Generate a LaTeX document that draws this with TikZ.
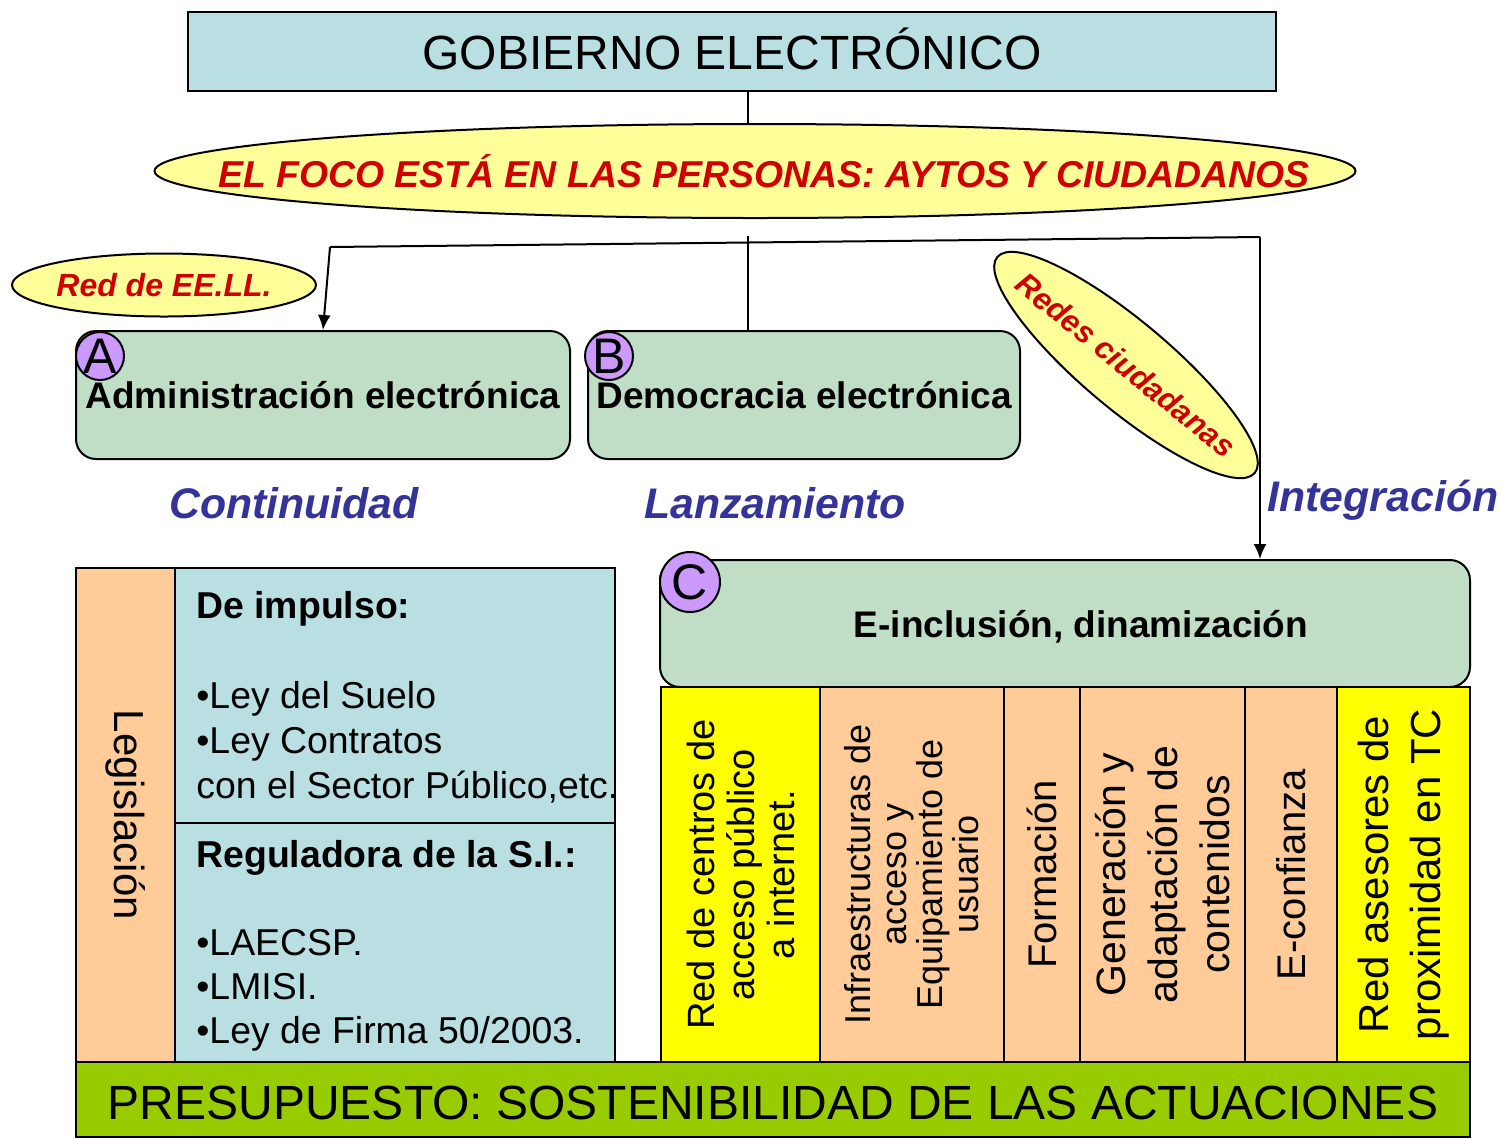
\documentclass[tikz,border=0pt]{standalone}
\usepackage{fontspec}
\setmainfont{Liberation Sans}
\usepackage{tikz}
\usetikzlibrary{positioning,shapes.geometric,arrows.meta}
\definecolor{boxblue}{HTML}{B9DFE3}
\definecolor{boxgreen}{HTML}{C0DEC6}
\definecolor{palegold}{HTML}{FFFF99}
\definecolor{focored}{HTML}{D00000}
\definecolor{phaseblue}{HTML}{333399}
\definecolor{lilac}{HTML}{CC99FF}
\definecolor{peach}{HTML}{FFCC99}
\definecolor{brightyel}{HTML}{FFFF00}
\definecolor{budget}{HTML}{99CC00}
\newcommand{\fs}[1]{\fontsize{#1}{#1}\selectfont}

\begin{document}
\begin{tikzpicture}[x=0.5pt,y=-0.5pt,
  plain/.style={draw,line width=1pt,inner sep=0pt},
  rbox/.style={plain,fill=boxgreen,rounded corners=10pt},
  oval/.style={plain,ellipse,fill=palegold},
  ovaltext/.style={text=focored,font=\fs{#1}\bfseries\itshape},
  tag/.style={plain,circle,fill=lilac,minimum size=#1},
  phase/.style={text=phaseblue,font=\fs{21.4}\bfseries\itshape},
  col/.style={plain,minimum width=187.5pt,rotate=90,align=center},
  link/.style={line width=1pt},
  arr/.style={link,-{Latex[length=7.5pt,width=6.5pt]}}]
  \useasboundingbox (0,0) rectangle (1501,1137);
  % top of the scheme
  \node(gob)[plain,fill=boxblue,minimum width=544pt,minimum height=39.5pt] at (732,51.5) {};
  \node(gobtxt)[font=\fs{24},yshift=1.5pt] at (gob.center) {GOBIERNO ELECTRÓNICO};
  \node(foco)[oval,minimum width=600.5pt,minimum height=47pt] at (755,171) {};
  \node(focotxt)[ovaltext=18.7,xshift=4.5pt] at (foco.center) {EL FOCO ESTÁ EN LAS PERSONAS: AYTOS Y CIUDADANOS};
  \node(eell)[oval,minimum width=152pt,minimum height=31.5pt] at (164,285) {};
  \node(eelltxt)[ovaltext=16] at (eell.center) {Red de EE.LL.};
  \node(redes)[oval,minimum width=168pt,minimum height=44pt,rotate=-40] at (1126,365) {};
  \node(redestxt)[ovaltext=15.5,rotate=-39] at (redes.center) {Redes ciudadanas};
  % the three lines
  \node(adm)[rbox,minimum width=247pt,minimum height=64pt] at (323,395) {\fs{18.5}\bfseries Administración electrónica};
  \node(dem)[rbox,minimum width=216pt,minimum height=64pt] at (804,395) {\fs{18.5}\bfseries Democracia electrónica};
  \node(einc)[rbox,minimum width=405pt,minimum height=63.5pt] at (1065,623.5) {};
  \node(einctxt)[font=\fs{18.5}\bfseries,xshift=8pt,yshift=-1.5pt] at (einc.center) {E-inclusión, dinamización};
  \node(tagA)[tag=24pt,label={[font=\fs{25}]center:A}] at (100,356) {};
  \node(tagB)[tag=24pt,label={[font=\fs{25}]center:B}] at (609,356) {};
  \node(tagC)[tag=30pt,label={[font=\fs{25}]center:C}] at (690,582) {};
  \node(cont)[phase] at (294,503) {Continuidad};
  \node(lanz)[phase] at (775,503) {Lanzamiento};
  \node(integ)[phase] at (1383,500) {Integración};
  % connectors
  \coordinate(jl) at (330,247);
  \coordinate(jr) at (1260,237);
  \coordinate(jm) at (748,236);
  \draw[link] (gob.south -| jm) -- (foco.north -| jm);
  \draw[link] (jl) -- (jr);
  \draw[arr] (jl) -- (adm.north);
  \draw[link] (jm) -- (jm |- dem.north);
  \draw[arr] (jr) -- (jr |- einc.north);
  % legislation block
  \node(leg)[plain,fill=peach,minimum width=49.5pt,minimum height=247pt] at (125.5,815) {};
  \node(legtxt)[rotate=-90,font=\fs{21}] at (leg.center) {Legislación};
  \node(imp)[plain,fill=boxblue,minimum width=220pt,minimum height=127.5pt] at (395,695.5) {};
  \node(reg)[plain,fill=boxblue,minimum width=220pt,minimum height=119.5pt] at (395,942.5) {};
  \node(imptxt)[anchor=north west,align=left,font=\fontsize{18.7}{22.5}\selectfont,inner sep=0pt] at (196,591) {%
    \textbf{De impulso:}\\[22.5pt]•Ley del Suelo\\•Ley Contratos\\con el Sector Público,etc.};
  \node(regtxt)[anchor=north west,align=left,font=\fontsize{18.7}{22}\selectfont,inner sep=0pt] at (196,840) {%
    \textbf{Reguladora de la S.I.:}\\[22pt]•LAECSP.\\•LMISI.\\•Ley de Firma 50/2003.};
  % e-inclusion columns
  \node(c1)[col,fill=brightyel,minimum height=79.5pt,font=\fontsize{19}{20}\selectfont] at (740.5,874.5) {Red de centros de\\acceso público\\a internet.};
  \node(c2)[col,fill=peach,minimum height=92pt,font=\fontsize{18}{18}\selectfont] at (912,874.5) {Infraestructuras de\\acceso y\\Equipamiento de\\usuario};
  \node(c3)[col,fill=peach,minimum height=38pt,font=\fs{20}] at (1042,874.5) {Formación};
  \node(c4)[col,fill=peach,minimum height=82.5pt,font=\fontsize{20.5}{26}\selectfont] at (1162.5,874.5) {Generación y\\adaptación de\\contenidos};
  \node(c5)[col,fill=peach,minimum height=46pt,font=\fs{20}] at (1291,874.5) {E-confianza};
  \node(c6)[col,fill=brightyel,minimum height=66.5pt,font=\fontsize{21}{26}\selectfont] at (1403.5,874.5) {Red asesores de\\proximidad en TC};
  % budget
  \node(pres)[plain,fill=budget,minimum width=697pt,minimum height=37.5pt] at (773,1099.5) {};
  \node(prestxt)[font=\fs{24},yshift=-1.5pt] at (pres.center) {PRESUPUESTO: SOSTENIBILIDAD DE LAS ACTUACIONES};
\end{tikzpicture}
\end{document}
